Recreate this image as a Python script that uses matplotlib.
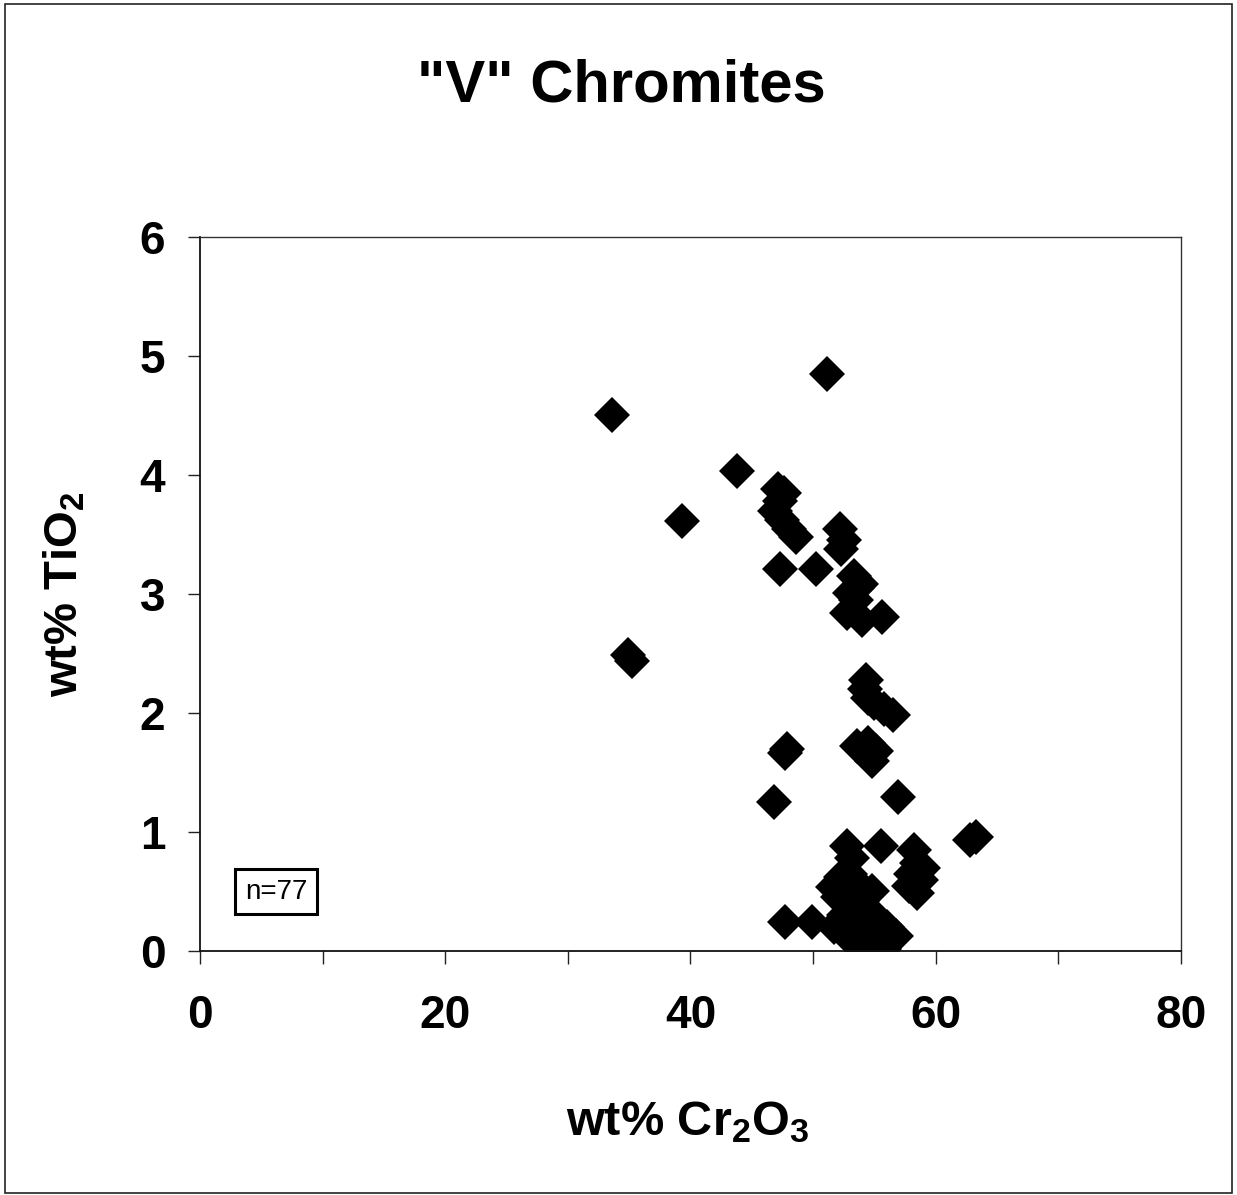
"""Scatter of TiO2 vs Cr2O3 for "V" chromites."""

import matplotlib

matplotlib.use("Agg")
import matplotlib.pyplot as plt
from matplotlib.patches import Rectangle
from matplotlib.ticker import MultipleLocator

plt.rcParams["font.family"] = ["Liberation Sans", "DejaVu Sans"]
plt.rcParams["font.weight"] = "bold"
plt.rcParams["mathtext.fontset"] = "custom"
plt.rcParams["mathtext.rm"] = "Liberation Sans:bold"
plt.rcParams["mathtext.it"] = "Liberation Sans:bold"
plt.rcParams["mathtext.bf"] = "Liberation Sans:bold"
plt.rcParams["mathtext.default"] = "rm"

# wt% Cr2O3 / wt% TiO2 (n=77, many overlap)
cr2o3 = [
    51.1, 33.6, 43.8, 39.3,
    47.1, 47.3, 46.9, 47.5, 48.0, 48.6, 47.6,
    52.2, 52.5, 52.3,
    47.3, 50.2,
    53.3, 53.9, 53.0, 53.5, 52.8, 54.0, 55.6, 53.6,
    34.9, 35.2,
    54.3, 54.5, 55.0, 56.5, 55.8, 54.2,
    47.7, 47.9,
    53.6, 54.5, 54.8, 55.1,
    46.8, 56.9,
    63.3, 62.8,
    52.8, 55.5, 58.2, 58.5, 59.0, 58.8, 58.5, 57.8, 58.0,
    51.6, 52.3, 53.0, 52.0, 53.2,
    47.7, 49.9, 51.7, 53.0, 54.3, 55.3, 55.8, 56.8,
    53.5, 54.0, 53.8, 54.5, 55.0, 56.0, 55.5, 53.0, 54.8,
    55.0, 54.0, 52.5, 56.3,
]
tio2 = [
    4.85, 4.50, 4.03, 3.61,
    3.88, 3.78, 3.70, 3.62, 3.55, 3.48, 3.85,
    3.55, 3.45, 3.38,
    3.21, 3.21,
    3.15, 3.08, 3.01, 2.95, 2.84, 2.78, 2.81, 3.05,
    2.49, 2.44,
    2.28, 2.13, 2.08, 1.98, 2.03, 2.20,
    1.66, 1.70,
    1.72, 1.75, 1.60, 1.68,
    1.25, 1.29,
    0.96, 0.93,
    0.88, 0.88, 0.85, 0.74, 0.70, 0.60, 0.49, 0.55, 0.65,
    0.54, 0.62, 0.65, 0.45, 0.78,
    0.24, 0.24, 0.20, 0.18, 0.15, 0.10, 0.02, 0.13,
    0.35, 0.42, 0.55, 0.25, 0.30, 0.20, 0.05, 0.10, 0.50,
    0.15, 0.05, 0.30, 0.10,
]

fig = plt.figure(figsize=(12.37, 11.95), dpi=100)
fig.patches.append(Rectangle((0.004, 0.002), 0.992, 0.995, transform=fig.transFigure,
                             fill=False, edgecolor="#222", linewidth=1.2))

ax = fig.add_axes([0.1617, 0.2042, 0.7930, 0.5975])
ax.plot(cr2o3, tio2, linestyle="none", marker="D", markersize=18.5,
        color="black", markeredgewidth=0)

ax.set_xlim(0, 80)
ax.set_ylim(0, 6)
ax.xaxis.set_major_locator(MultipleLocator(20))
ax.xaxis.set_minor_locator(MultipleLocator(10))
ax.yaxis.set_major_locator(MultipleLocator(1))
ax.tick_params(axis="both", which="both", direction="out", length=9, width=1, color="#222")
ax.tick_params(axis="x", which="major", labelsize=33, pad=22)
ax.tick_params(axis="y", which="major", labelsize=33, pad=16)
for lab in ax.get_xticklabels() + ax.get_yticklabels():
    lab.set_fontweight("bold")
for side in ("left", "bottom"):
    ax.spines[side].set_linewidth(1.3)
    ax.spines[side].set_color("#111")
for side in ("top", "right"):
    ax.spines[side].set_linewidth(1.0)
    ax.spines[side].set_color("#333")

ax.text(0.0775, 0.083, "n=77", transform=ax.transAxes, fontsize=20, fontweight="normal",
        ha="center", va="center",
        bbox=dict(boxstyle="square,pad=0.35", facecolor="white", edgecolor="black", linewidth=2.2))

fig.text(0.502, 0.928, '"V" Chromites', fontsize=43, fontweight="bold", ha="center", va="center")
fig.text(0.556, 0.061, "wt% Cr$_2$O$_3$", fontsize=35, fontweight="bold", ha="center", va="center")
fig.text(0.052, 0.503, "wt% TiO$_2$", fontsize=34, fontweight="bold", ha="center", va="center",
         rotation=90)

fig.savefig("out.png", dpi=100)
